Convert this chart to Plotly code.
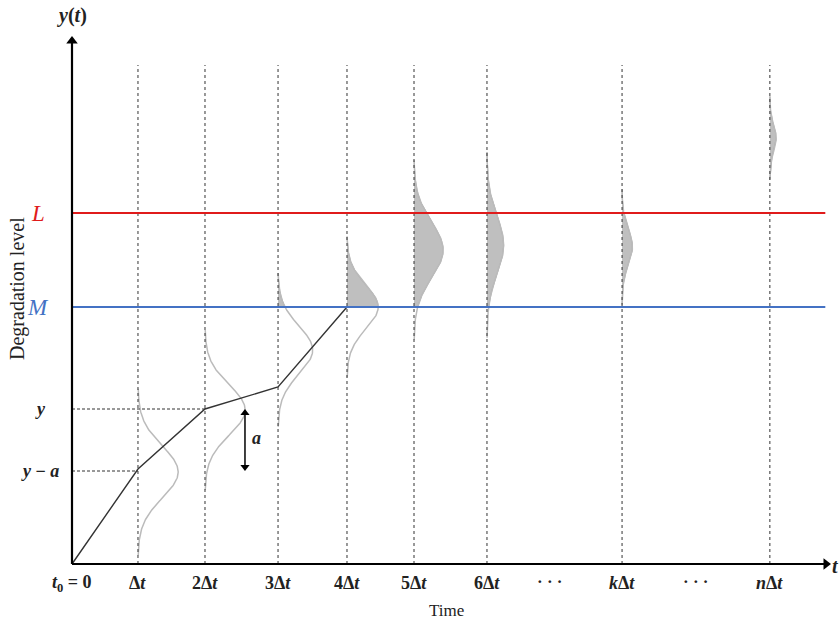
import numpy as np
import plotly.graph_objects as go

# ---- data (x in units of Δt, y in degradation units) ----
tick_labels = ["<i>t</i><sub>0</sub> = 0", "Δ<i>t</i>", "2Δ<i>t</i>", "3Δ<i>t</i>", "4Δ<i>t</i>",
               "5Δ<i>t</i>", "6Δ<i>t</i>", "<i>k</i>Δ<i>t</i>", "<i>n</i>Δ<i>t</i>"]
tick_pos = [0.0, 0.952, 1.919, 2.973, 3.968, 4.935, 5.988, 7.937, 10.07]
dots_pos = [6.9, 9.0]

path_t = [0.0, 0.952, 1.919, 2.973, 3.968]
path_y = [0, 95, 155, 177, 257]

level_M = 257
level_L = 351
level_y = 155
level_y_minus_a = 93

# density curves at each inspection time: centre, spread, peak width
dens_t = [0.952, 1.919, 2.973, 3.968, 4.935, 5.988, 7.937, 10.07]
dens_mu = [92, 154, 214, 257, 314, 319, 317, 426]
dens_sd = [26, 25, 24, 22, 28, 29, 18, 13]
dens_amp = [0.58, 0.58, 0.50, 0.45, 0.42, 0.24, 0.15, 0.09]

x_range = [-1.039, 11.082]
y_range = [-55, 564]
y_axis_top = 528
x_axis_end = 10.95
a_arrow_x = 2.496

fig = go.Figure()

serif = "Liberation Serif"

# vertical dotted lines
for t in tick_pos[1:]:
    fig.add_shape(type="line", x0=t, x1=t, y0=0, y1=499,
                  line=dict(color="#333333", width=1, dash="dot"))

# horizontal guide lines for y and y-a
fig.add_shape(type="line", x0=0, x1=path_t[2], y0=level_y, y1=level_y,
              line=dict(color="#333333", width=1, dash="3px,2px"))
fig.add_shape(type="line", x0=0, x1=path_t[1], y0=level_y_minus_a, y1=level_y_minus_a,
              line=dict(color="#333333", width=1, dash="3px,2px"))

# densities
for t, mu, sd, amp in zip(dens_t, dens_mu, dens_sd, dens_amp):
    yy = np.linspace(mu - 3.2 * sd, mu + 3.2 * sd, 200)
    xx = t + amp * np.exp(-0.5 * ((yy - mu) / sd) ** 2)
    if yy.max() > level_M:
        m = yy >= level_M
        ys = yy[m]
        xs = xx[m]
        y0 = max(level_M, yy.min())
        poly_x = [t] + list(xs) + [t]
        poly_y = [y0] + list(ys) + [ys[-1]]
        fig.add_trace(go.Scatter(x=poly_x, y=poly_y, fill="toself",
                                 fillcolor="rgba(170,170,170,0.75)",
                                 line=dict(color="#a8a8a8", width=1),
                                 mode="lines", hoverinfo="skip", showlegend=False))
    fig.add_trace(go.Scatter(x=xx, y=yy, mode="lines",
                             line=dict(color="#bbbbbb", width=1.5),
                             hoverinfo="skip", showlegend=False))

# thresholds
fig.add_shape(type="line", x0=0, x1=10.87, y0=level_L, y1=level_L,
              line=dict(color="#e01b1b", width=2))
fig.add_shape(type="line", x0=0, x1=10.87, y0=level_M, y1=level_M,
              line=dict(color="#4472c4", width=2))

# degradation path
fig.add_trace(go.Scatter(x=path_t, y=path_y, mode="lines",
                         line=dict(color="#333333", width=1.4),
                         hoverinfo="skip", showlegend=False))

# axes with arrowheads
fig.add_shape(type="line", x0=0, x1=0, y0=0, y1=y_axis_top - 6,
              line=dict(color="black", width=2.2))
fig.add_shape(type="line", x0=0, x1=x_axis_end - 0.08, y0=0, y1=0,
              line=dict(color="black", width=2.2))
fig.add_trace(go.Scatter(x=[0], y=[y_axis_top - 5], mode="markers",
                         marker=dict(symbol="triangle-up", size=10, color="black"),
                         hoverinfo="skip", showlegend=False))
fig.add_trace(go.Scatter(x=[x_axis_end - 0.07], y=[0], mode="markers",
                         marker=dict(symbol="triangle-right", size=10, color="black"),
                         hoverinfo="skip", showlegend=False))

# 'a' double arrow
fig.add_shape(type="line", x0=a_arrow_x, x1=a_arrow_x, y0=level_y_minus_a + 4, y1=level_y - 4,
              line=dict(color="black", width=1.5))
fig.add_trace(go.Scatter(x=[a_arrow_x, a_arrow_x], y=[level_y - 4, level_y_minus_a + 4],
                         mode="markers",
                         marker=dict(symbol=["triangle-up", "triangle-down"], size=8, color="black"),
                         hoverinfo="skip", showlegend=False))

# texts
for lab, t in zip(tick_labels, tick_pos):
    fig.add_annotation(x=t, y=-19, text="<b>" + lab + "</b>", showarrow=False,
                       font=dict(family=serif, size=18, color="#222"))
for t in dots_pos:
    fig.add_annotation(x=t, y=-17, text="<b>· · ·</b>", showarrow=False,
                       font=dict(family=serif, size=17, color="#222"))

fig.add_annotation(x=5.4, y=-46, text="Time", showarrow=False,
                   font=dict(family=serif, size=17, color="#222"))
fig.add_annotation(x=-0.794, y=276, text="Degradation level", textangle=-90, showarrow=False,
                   font=dict(family=serif, size=20, color="#222"))
fig.add_annotation(x=0, y=549, text="<b><i>y</i>(<i>t</i>)</b>", showarrow=False,
                   font=dict(family=serif, size=20, color="#222"))
fig.add_annotation(x=11.02, y=-2, text="<b><i>t</i></b>", showarrow=False,
                   font=dict(family=serif, size=20, color="#222"))
fig.add_annotation(x=-0.49, y=level_L, text="<i>L</i>", showarrow=False,
                   font=dict(family=serif, size=23, color="#e01b1b"))
fig.add_annotation(x=-0.49, y=level_M, text="<i>M</i>", showarrow=False,
                   font=dict(family=serif, size=23, color="#4472c4"))
fig.add_annotation(x=-0.46, y=level_y, text="<b><i>y</i></b>", showarrow=False,
                   font=dict(family=serif, size=18, color="#222"))
fig.add_annotation(x=-0.46, y=level_y_minus_a, text="<b><i>y</i> − <i>a</i></b>", showarrow=False,
                   font=dict(family=serif, size=18, color="#222"))
fig.add_annotation(x=2.66, y=126, text="<b><i>a</i></b>", showarrow=False,
                   font=dict(family=serif, size=18, color="#222"))

fig.update_xaxes(range=x_range, visible=False, fixedrange=True)
fig.update_yaxes(range=y_range, visible=False, fixedrange=True)
fig.update_layout(width=840, height=619, margin=dict(l=0, r=0, t=0, b=0),
                  plot_bgcolor="white", paper_bgcolor="white", showlegend=False)

fig.write_html("out.html")
